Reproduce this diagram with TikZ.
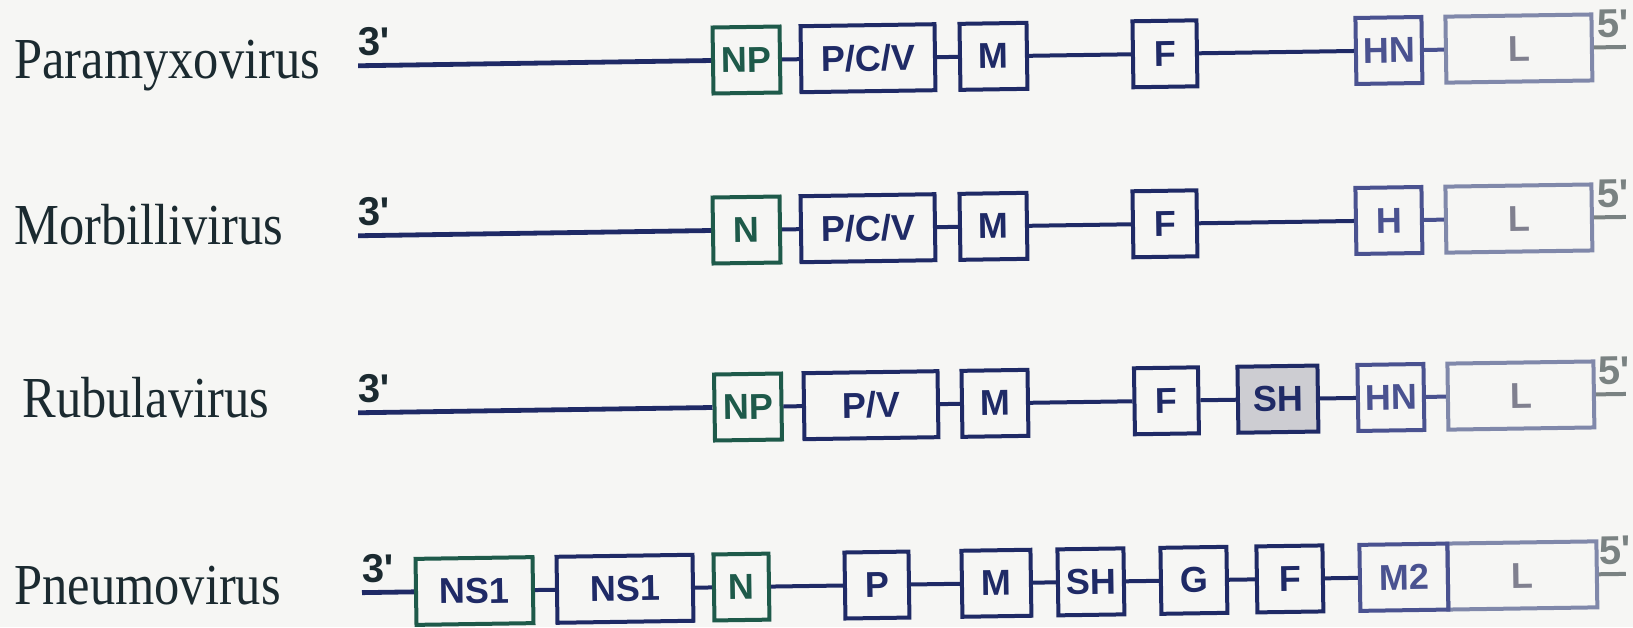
\documentclass[tikz,border=0pt]{standalone}
\usepackage{fontspec}
\setmainfont{Liberation Serif}
\newfontfamily\vserif{Liberation Serif}[FakeStretch=0.87]
\newfontfamily\gsans{Liberation Sans}[Ligatures=TeXOff]
\definecolor{bg}{HTML}{F6F6F4}
\definecolor{navy}{HTML}{1F2A66}
\definecolor{tealc}{HTML}{1E5A4A}
\definecolor{slate}{HTML}{4A5290}
\definecolor{pale}{HTML}{8088AA}
\definecolor{ink}{HTML}{1B2A30}
\definecolor{shfill}{HTML}{CDCDD2}
\definecolor{endgray}{HTML}{7A8282}
\definecolor{ltext}{HTML}{80808F}
\tikzset{
  gbox/.style={draw=navy, line width=2pt, inner sep=0pt, minimum height=33pt,
    font=\gsans\bfseries\fontsize{18}{20}\selectfont, text=navy},
  lbox/.style={gbox, draw=pale, text=ltext},
  conn/.style={draw=navy, line width=2pt},
  lead/.style={draw=navy, line width=2.4pt},
  tag/.style={inner sep=0pt, anchor=base west, font=\gsans\bfseries\fontsize{20}{22}\selectfont, text=ink},
  virus/.style={inner sep=0pt, anchor=base west, font=\vserif\fontsize{29}{32}\selectfont, text=ink}
}
\begin{document}
\begin{tikzpicture}[x=0.5pt, y=-0.5pt]
\useasboundingbox (0,0) rectangle (1633,627);
\fill[bg] (0,0) rectangle (1633,627);

% ---------------- Row 1: Paramyxovirus
\node[virus] (v1) at (14,78) {Paramyxovirus};
\begin{scope}[rotate around={0.85:(746.5,60)}, transform shape]
  \coordinate (a3) at (358,60);
  \node[tag] (a3t) at (358,50) {3'};
  \node[gbox, minimum width=33.5pt, draw=tealc, text=tealc] (anp) at (746.5,60) {NP};
  \node[gbox, minimum width=67pt] (apcv) at (868,60) {P/C/V};
  \node[gbox, minimum width=33.5pt] (am) at (993.5,60) {M};
  \node[gbox, minimum width=32pt] (af) at (1165,60) {F};
  \node[gbox, minimum width=33pt, draw=slate, text=slate] (ahn) at (1389,60) {HN};
  \node[lbox, minimum width=73pt] (al) at (1519,60) {L};
  \coordinate (a5) at (1626,60);
  \node[tag, text=endgray] (a5t) at (1597,50) {5'};
  \draw[lead] (a3) -- (anp);
  \draw[conn] (anp) -- (apcv);
  \draw[conn] (apcv) -- (am);
  \draw[conn] (am) -- (af);
  \draw[conn] (af) -- (ahn);
  \draw[conn, draw=slate] (ahn) -- (al);
  \draw[conn, draw=endgray] (al) -- (a5);
\end{scope}

% ---------------- Row 2: Morbillivirus
\node[virus] (v2) at (14,244) {Morbillivirus};
\begin{scope}[rotate around={0.85:(746.5,230)}, transform shape]
  \coordinate (b3) at (358,230);
  \node[tag] (b3t) at (358,220) {3'};
  \node[gbox, minimum width=33.5pt, draw=tealc, text=tealc] (bn) at (746.5,230) {N};
  \node[gbox, minimum width=67pt] (bpcv) at (868,230) {P/C/V};
  \node[gbox, minimum width=33.5pt] (bm) at (993.5,230) {M};
  \node[gbox, minimum width=32pt] (bf) at (1165,230) {F};
  \node[gbox, minimum width=33pt, draw=slate, text=slate] (bh) at (1389,230) {H};
  \node[lbox, minimum width=73pt] (bl) at (1519,230) {L};
  \coordinate (b5) at (1626,230);
  \node[tag, text=endgray] (b5t) at (1597,220) {5'};
  \draw[lead] (b3) -- (bn);
  \draw[conn] (bn) -- (bpcv);
  \draw[conn] (bpcv) -- (bm);
  \draw[conn] (bm) -- (bf);
  \draw[conn] (bf) -- (bh);
  \draw[conn, draw=slate] (bh) -- (bl);
  \draw[conn, draw=endgray] (bl) -- (b5);
\end{scope}

% ---------------- Row 3: Rubulavirus
\node[virus] (v3) at (22,417) {Rubulavirus};
\begin{scope}[rotate around={0.85:(748,407)}, transform shape]
  \coordinate (c3) at (358,407);
  \node[tag] (c3t) at (358,397) {3'};
  \node[gbox, minimum width=33.5pt, draw=tealc, text=tealc] (cnp) at (748,407) {NP};
  \node[gbox, minimum width=67pt] (cpv) at (871,407) {P/V};
  \node[gbox, minimum width=33pt] (cm) at (995,407) {M};
  \node[gbox, minimum width=32pt] (cf) at (1166.5,407) {F};
  \node[gbox, minimum width=40pt, fill=shfill] (csh) at (1278,407) {SH};
  \node[gbox, minimum width=33pt, draw=slate, text=slate] (chn) at (1391,407) {HN};
  \node[lbox, minimum width=73pt] (cl) at (1521,407) {L};
  \coordinate (c5) at (1626,407);
  \node[tag, text=endgray] (c5t) at (1598,397) {5'};
  \draw[lead] (c3) -- (cnp);
  \draw[conn] (cnp) -- (cpv);
  \draw[conn] (cpv) -- (cm);
  \draw[conn] (cm) -- (cf);
  \draw[conn] (cf) -- (csh);
  \draw[conn] (csh) -- (chn);
  \draw[conn, draw=slate] (chn) -- (cl);
  \draw[conn, draw=endgray] (cl) -- (c5);
\end{scope}

% ---------------- Row 4: Pneumovirus
\node[virus] (v4) at (14,604) {Pneumovirus};
\begin{scope}[rotate around={0.85:(474.5,591)}, transform shape]
  \coordinate (d3) at (362,591);
  \node[tag] (d3t) at (362,581) {3'};
  \node[gbox, minimum width=58.5pt, draw=tealc] (dns1) at (474.5,591) {NS1};
  \node[gbox, minimum width=68pt] (dns2) at (625,591) {NS1};
  \node[gbox, minimum width=27.5pt, draw=tealc, text=tealc] (dn) at (741.5,591) {N};
  \node[gbox, minimum width=32pt] (dp) at (877,591) {P};
  \node[gbox, minimum width=34.5pt] (dm) at (996.5,591) {M};
  \node[gbox, minimum width=33pt] (dsh) at (1091,591) {SH};
  \node[gbox, minimum width=33pt] (dg) at (1194,591) {G};
  \node[gbox, minimum width=33pt] (df) at (1290,591) {F};
  \node[lbox, minimum width=74.5pt] (dl) at (1522.5,591) {L};
  \node[gbox, minimum width=44pt, draw=slate, text=slate] (dm2) at (1404,591) {M2};
  \coordinate (d5) at (1626,591);
  \node[tag, text=endgray] (d5t) at (1599,581) {5'};
  \draw[lead] (d3) -- (dns1);
  \draw[conn] (dns1) -- (dns2);
  \draw[conn] (dns2) -- (dn);
  \draw[conn] (dn) -- (dp);
  \draw[conn] (dp) -- (dm);
  \draw[conn] (dm) -- (dsh);
  \draw[conn] (dsh) -- (dg);
  \draw[conn] (dg) -- (df);
  \draw[conn] (df) -- (dm2);
  \draw[conn, draw=endgray] (dl) -- (d5);
\end{scope}
\end{tikzpicture}
\end{document}
